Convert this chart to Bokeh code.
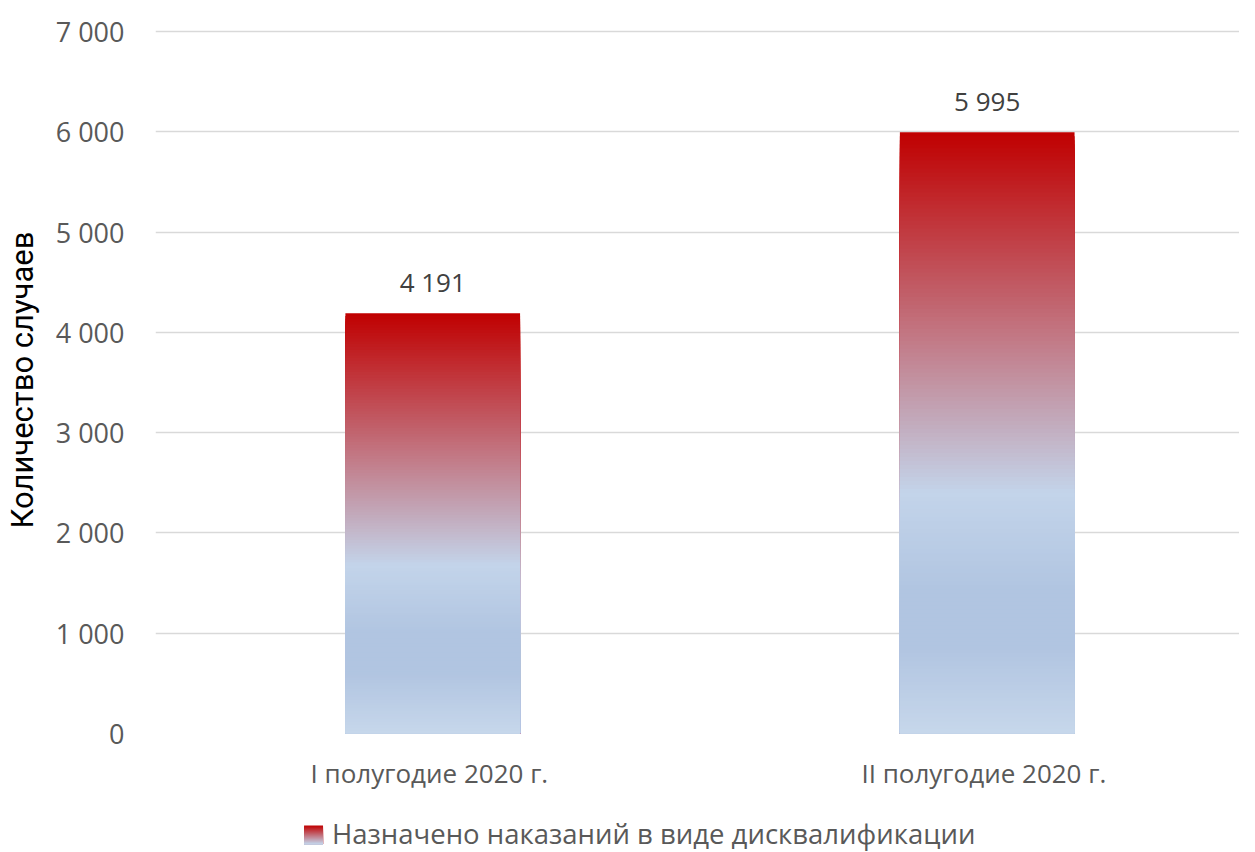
import numpy as np
from bokeh.plotting import figure
from bokeh.models import Range1d, FixedTicker, ColumnDataSource, LabelSet, Label
from bokeh.layouts import column
from bokeh.core.properties import value
from bokeh.embed import file_html
from bokeh.resources import INLINE

# ---- data ----
categories = ["I полугодие 2020  г.", "II полугодие 2020  г."]
values = [4191, 5995]
value_labels = ["4 191", "5 995"]
y_ticks = [0, 1000, 2000, 3000, 4000, 5000, 6000, 7000]
y_tick_labels = ["0", "1 000", "2 000", "3 000", "4 000", "5 000", "6 000", "7 000"]
series_name = "Назначено наказаний в виде дисквалификации"
y_title = "Количество случаев"

# ---- gradient (fraction from top of bar -> colour) ----
stops = [(0.0, (192, 0, 0)), (0.6, (195, 212, 234)), (0.76, (177, 197, 225)),
         (0.86, (177, 197, 225)), (1.0, (199, 215, 235))]

def grad(t):
    for (t0, c0), (t1, c1) in zip(stops[:-1], stops[1:]):
        if t <= t1:
            r = (t - t0) / (t1 - t0) if t1 > t0 else 0
            c = [int(round(a + (b - a) * r)) for a, b in zip(c0, c1)]
            return "#%02x%02x%02x" % tuple(c)
    return "#%02x%02x%02x" % stops[-1][1]

N = 150
BAR_W = 0.315
left, right, top, bottom, color = [], [], [], [], []
for j, v in enumerate(values):
    xc = j + 0.5
    for i in range(N - 1, -1, -1):
        left.append(xc - BAR_W / 2)
        right.append(xc + BAR_W / 2)
        top.append(v * (i + 1) / N)
        bottom.append(0)
        color.append(grad(1 - (i + 0.5) / N))
bars = ColumnDataSource(dict(left=left, right=right, top=top, bottom=bottom, color=color))

FONT = "Open Sans"
LB = 152
p = figure(width=1239, height=800, output_backend="svg", toolbar_location=None,
           x_range=Range1d(0, 1.955), y_range=Range1d(0, 7050),
           min_border_left=LB, min_border_right=0, min_border_top=26, min_border_bottom=67)
p.outline_line_color = None
p.background_fill_color = "white"
p.border_fill_color = "white"

p.quad(left="left", right="right", top="top", bottom="bottom", fill_color="color",
       line_color=None, source=bars)

lab = ColumnDataSource(dict(x=[j + 0.5 for j in range(len(values))], y=values, t=value_labels))
p.add_layout(LabelSet(x="x", y="y", text="t", source=lab, text_align="center",
                      text_baseline="alphabetic", y_offset=21, text_font=value(FONT),
                      text_font_size="26px", text_color="#404040"))

p.xgrid.visible = False
p.ygrid.ticker = FixedTicker(ticks=y_ticks)
p.ygrid.grid_line_color = "#d9d9d9"
p.ygrid.grid_line_width = 1.3

p.yaxis.ticker = FixedTicker(ticks=y_ticks)
p.yaxis.major_label_overrides = {t: l for t, l in zip(y_ticks, y_tick_labels)}
p.yaxis.axis_line_color = None
p.yaxis.major_tick_line_color = None
p.yaxis.minor_tick_line_color = None
p.yaxis.major_tick_out = 0
p.yaxis.major_label_standoff = 31
p.yaxis.major_label_text_font = FONT
p.yaxis.major_label_text_font_size = "27px"
p.yaxis.major_label_text_color = "#595959"
p.yaxis.axis_label = y_title
p.yaxis.axis_label_text_font = "Roboto"
p.yaxis.axis_label_text_font_style = "normal"
p.yaxis.axis_label_text_font_size = "31px"
p.yaxis.axis_label_text_color = "#000000"
p.yaxis.axis_label_standoff = 12

xt = [j + 0.5 for j in range(len(categories))]
p.xaxis.ticker = FixedTicker(ticks=xt)
p.xaxis.major_label_overrides = {t: c for t, c in zip(xt, categories)}
p.xaxis.axis_line_color = None
p.xaxis.major_tick_line_color = None
p.xaxis.minor_tick_line_color = None
p.xaxis.major_tick_out = 0
p.xaxis.major_label_standoff = 21
p.xaxis.major_label_text_font = FONT
p.xaxis.major_label_text_font_size = "26px"
p.xaxis.major_label_text_color = "#595959"

# ---- legend strip (frame aligned with the chart frame) ----
leg = figure(width=1239, height=52, output_backend="svg", toolbar_location=None,
             x_range=Range1d(0, 1239 - LB), y_range=Range1d(0, 52),
             min_border_left=LB, min_border_right=0, min_border_top=0, min_border_bottom=0)
leg.axis.visible = False
leg.grid.visible = False
leg.outline_line_color = None
M = 19
sw = ColumnDataSource(dict(
    left=[149] * M, right=[168] * M,
    top=[27 - k for k in range(M)], bottom=[8] * M,
    color=[grad((k + 0.5) / M * 0.62) for k in range(M)]))
leg.quad(left="left", right="right", top="top", bottom="bottom", fill_color="color",
         line_color=None, source=sw)
leg.add_layout(Label(x=177, y=19, text=series_name, text_font=FONT,
                     text_font_size="27.5px", text_color="#595959",
                     text_baseline="alphabetic"))

out = column(p, leg, spacing=0)
open("out.html", "w").write(file_html(out, INLINE))
